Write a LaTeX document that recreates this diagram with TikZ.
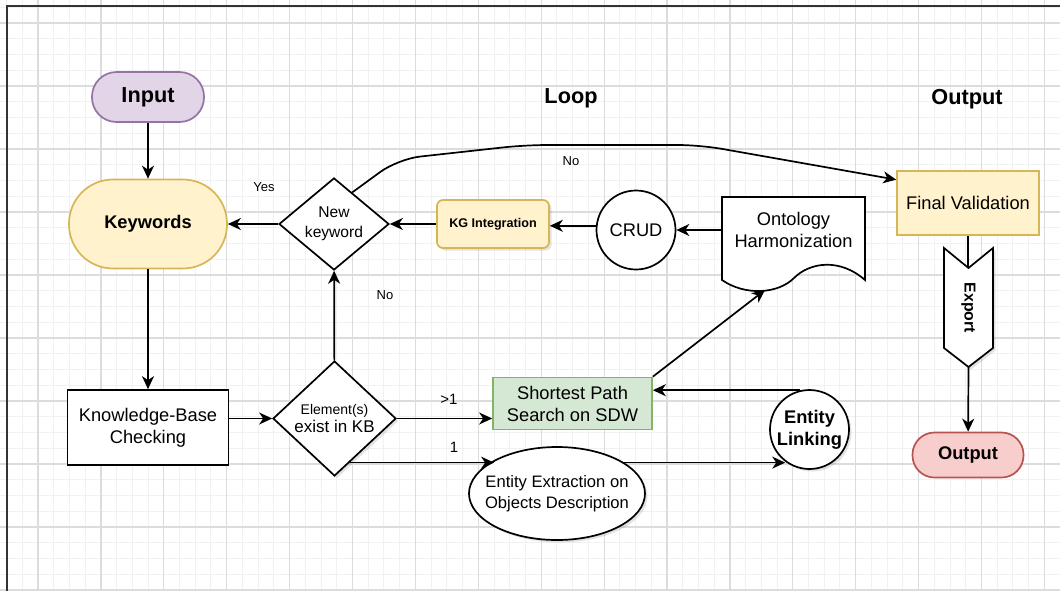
\documentclass[tikz,border=0pt]{standalone}
\usepackage{fontspec}
\setmainfont{Liberation Sans}
\usetikzlibrary{arrows.meta,shapes.geometric,shadows,calc}
\definecolor{purF}{HTML}{E1D5E7}
\definecolor{purD}{HTML}{9673A6}
\definecolor{yelF}{HTML}{FFF2CC}
\definecolor{yelD}{HTML}{D6B656}
\definecolor{grnF}{HTML}{D5E8D4}
\definecolor{grnD}{HTML}{82B366}
\definecolor{redF}{HTML}{F8CECC}
\definecolor{redD}{HTML}{B85450}
\definecolor{gMinor}{HTML}{F1F1F1}
\definecolor{gMajor}{HTML}{DCDCDC}
\definecolor{frameC}{HTML}{333333}
\tikzset{
  gminor/.style={draw=gMinor, line width=1pt},
  gmajor/.style={draw=gMajor, line width=1.2pt},
  shp/.style={draw=black, line width=1.7pt, fill=white, align=center, inner sep=0pt},
  shd/.style={drop shadow={opacity=0.22, shadow xshift=2.5pt, shadow yshift=-2.5pt}},
  conn/.style={draw=black, line width=1.7pt},
  arr/.style={conn, -{Stealth[length=13pt,width=12pt,inset=4pt]}},
  lbl/.style={font=\fontsize{13}{15}\selectfont, inner sep=0pt},
  ttl/.style={font=\fontsize{21.7}{25}\selectfont\bfseries, inner sep=0pt},
  nrm/.style={font=\fontsize{18.3}{22}\selectfont},
  bld/.style={font=\fontsize{18.3}{22}\selectfont\bfseries},
}
\begin{document}
\begin{tikzpicture}[x=1pt,y=-1pt]
\useasboundingbox (0,0) rectangle (1060,590);
\fill[white] (0,0) rectangle (1060,590);
% grid
\foreach \i in {-2,...,65} \draw[gminor] ({38+15.725*\i},0) -- ({38+15.725*\i},590);
\foreach \j in {-1,...,36} \draw[gminor] (0,{23+15.75*\j}) -- (1060,{23+15.75*\j});
\foreach \i in {0,...,16} \draw[gmajor] ({38+62.9*\i},0) -- ({38+62.9*\i},590);
\foreach \j in {0,...,9} \draw[gmajor] (0,{23+63*\j}) -- (1060,{23+63*\j});
\draw[line width=2.2pt, frameC] (7,592) -- (7,6) -- (1062,6);

% titles
\node[ttl] (tloop) at (571,98) {Loop};
\node[ttl] (tout) at (967,99) {Output};

% nodes
\node[shp, draw=purD, fill=purF, rounded corners=24.5pt, minimum width=112pt, minimum height=50pt, ttl] (input) at (148,97) {Input};
\node[shp, draw=yelD, fill=yelF, rounded corners=44pt, minimum width=158pt, minimum height=89pt, font=\fontsize{18.3}{22}\selectfont\bfseries] (kw) at (148,224) {Keywords};
\node[shp, diamond, minimum width=110pt, minimum height=88pt, font=\fontsize{15.6}{21}\selectfont] (newkw) at (334,224) {New\\[-1pt]keyword};
\node[shp, shd, draw=yelD, fill=yelF, rounded corners=6pt, minimum width=112pt, minimum height=48pt, font=\fontsize{12.6}{15}\selectfont\bfseries] (kg) at (493,224) {KG Integration};
\node[shp, circle, minimum size=79pt, nrm] (crud) at (636,230) {CRUD};
\node[shp, draw=yelD, fill=yelF, minimum width=142pt, minimum height=64pt, nrm] (fv) at (968,203) {Final Validation};

% ontology document
\draw[shp] (722,197) -- (865,197) -- (865,280) .. controls (840,258) and (810,262) .. (794,278) .. controls (778,294) and (745,296) .. (722,280) -- cycle;
\node[nrm, align=center, minimum width=143pt, minimum height=66pt, inner sep=0pt] (onto) at (793.5,230) {Ontology\\Harmonization};
\coordinate (ontob) at (765,290);

% export step shape
\draw[shp, shd] (944,248) -- (968.5,268) -- (993,248) -- (993,348) -- (968.5,367) -- (944,348) -- cycle;
\coordinate (notch) at (968.5,268);
\coordinate (tip) at (968.5,367);
\node[rotate=-90, font=\fontsize{15.8}{18}\selectfont\bfseries, inner sep=0pt] (export) at (968.5,308) {Export};
\node[shp, draw=redD, fill=redF, rounded corners=22pt, minimum width=111pt, minimum height=45pt, bld] (output) at (968,455) {Output};

\node[shp, minimum width=161pt, minimum height=75pt, nrm] (kb) at (148,427.5) {Knowledge-Base\\Checking};
\node[shp, shd, diamond, minimum width=123pt, minimum height=115pt] (elem) at (334.5,418.5) {\fontsize{14}{17}\selectfont Element(s)\\[1pt]\fontsize{17}{20}\selectfont exist in KB};
\node[shp, draw=grnD, fill=grnF, minimum width=159pt, minimum height=52pt, nrm] (sp) at (572.5,403.5) {Shortest Path\\Search on SDW};
\node[shp, shd, ellipse, inner xsep=-14pt, inner ysep=0pt, minimum width=176pt, minimum height=93pt, font=\fontsize{16.6}{20.5}\selectfont] (eee) at (557,493.5) {Entity Extraction on\\Objects Description};
\node[shp, shd, circle, minimum size=79pt, bld] (el) at (809.5,429.5) {Entity\\Linking};

% connectors
\draw[arr] (input) -- (kw);
\draw[arr] (kw) -- (kb);
\draw[arr] (kb.east |- elem.west) -- (elem.west);
\draw[arr] (elem) -- (newkw);
\draw[arr] (newkw) -- (kw);
\draw[arr] (kg) -- (newkw);
\draw[arr] (crud.174) -- (kg.east |- crud.174);
\draw[arr] (onto.west |- crud.east) -- (crud.east);
\draw[arr] (elem.east) -- (sp.west |- elem.east);
\draw[arr] (elem.-71) -- (eee.152.7 |- elem.-71);
\draw[arr] (eee.27.3 |- elem.-71) -- (el.233 |- elem.-71);
\draw[arr] (el.103) -- (el.103 -| sp.east);
\draw[arr] (sp.north east) -- (ontob);
\draw[arr, rounded corners=22pt] (newkw.60) -- (398,159) -- (525,145) -- (700,145) -- (fv.162);
\draw[conn] (fv.south) -- (fv.south |- notch);
\draw[arr] (tip) -- (output);

% labels
\node[lbl] (lyes) at (264,187) {Yes};
\node[lbl] (lno1) at (385,295) {No};
\node[lbl] (lno2) at (571,161) {No};
\node[lbl, font=\fontsize{15}{17}\selectfont] (lgt) at (449,399) {>1};
\node[lbl, font=\fontsize{15}{17}\selectfont] (lone) at (454,447) {1};
\end{tikzpicture}
\end{document}
